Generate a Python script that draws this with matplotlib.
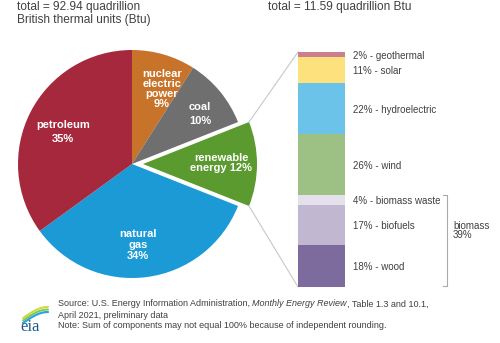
import numpy as np
import matplotlib
matplotlib.use('Agg')
import matplotlib.pyplot as plt
from matplotlib import transforms

plt.rcParams['font.family'] = ['Liberation Sans', 'DejaVu Sans']

# US primary energy consumption by source, 2020 (clockwise from top)
sources = ['nuclear electric power', 'coal', 'renewable energy', 'natural gas', 'petroleum']
source_share = [9, 10, 12, 34, 35]
source_colors = ['#c8732a', '#6f6f6f', '#5b9a2e', '#1b9ad6', '#a6283c']

# renewable breakdown (bottom to top of the bar)
renew = ['wood', 'biofuels', 'biomass waste', 'wind', 'hydroelectric', 'solar', 'geothermal']
renew_share = [18, 17, 4, 26, 22, 11, 2]
renew_colors = ['#7c6b9c', '#c1b7d1', '#e4e0ec', '#9dc184', '#6cc3ea', '#fde17c', '#c97f8c']
biomass_total = 39

W, H = 500, 343
fig = plt.figure(figsize=(W / 100, H / 100), dpi=100)
ax = fig.add_axes([0, 0, 1, 1])

# pie in pixel coordinates (y axis points down)
cx, cy, r, expl = 132, 164, 114, 11
explode = [expl if s == 'renewable energy' else 0 for s in sources]
ax.pie(source_share, colors=source_colors, explode=explode, startangle=-90,
       counterclock=True, center=(cx, cy), radius=r, frame=True,
       wedgeprops=dict(linewidth=0))
ax.set_xlim(0, W)
ax.set_ylim(H, 0)
ax.set_aspect('auto')
ax.axis('off')

lbl = dict(color='white', fontweight='bold', fontsize=8, ha='center', va='center',
           multialignment='center')
ax.text(162, 89, 'nuclear\nelectric\npower\n9%', linespacing=1.02, **lbl)
ax.text(200, 114, 'coal\n10%', linespacing=1.5, **lbl)
ax.text(221, 163, 'renewable\nenergy 12%', linespacing=0.95, **lbl)
ax.text(138, 245, 'natural\ngas\n34%', linespacing=1.1, **lbl)
ax.text(63, 132, 'petroleum\n35%', linespacing=1.5, **lbl)

# bar for renewables
bx, btop, bw, bh = 298, 52, 47, 235
axb = fig.add_axes([bx / W, 1 - (btop + bh) / H, bw / W, bh / H])
bottom = 0
centers = []
for name, s, c in zip(renew, renew_share, renew_colors):
    axb.bar(0, s, bottom=bottom, width=1, color=c, linewidth=0)
    centers.append(bottom + s / 2)
    bottom += s
axb.set_xlim(-0.5, 0.5)
axb.set_ylim(0, sum(renew_share))
axb.axis('off')

tr = transforms.blended_transform_factory(axb.transAxes, axb.transData)
for name, s, yc in zip(renew, renew_share, centers):
    axb.text(1.17, yc - 0.6, '%d%% - %s' % (s, name), transform=tr, fontsize=7,
             color='#404040', va='center', ha='left')

# bracket for biomass
axb.plot([3.08, 3.18, 3.18, 3.08], [biomass_total, biomass_total, 0.3, 0.3], transform=tr,
         color='#aaaaaa', lw=0.8, clip_on=False)
axb.text(3.3, 24, 'biomass\n%d%%' % biomass_total, transform=tr, fontsize=7,
         color='#404040', va='center', ha='left', linespacing=0.9)

# connector lines from exploded wedge to bar
half = np.deg2rad(360 * source_share[sources.index('renewable energy')] / 100 / 2)
ex = cx + expl + r * np.cos(half)
ax.plot([ex, bx], [cy - r * np.sin(half), btop], color='#c8c8c8', lw=0.8)
ax.plot([ex, bx], [cy + r * np.sin(half), btop + bh], color='#c8c8c8', lw=0.8)

# titles
tk = dict(fontsize=8.6, color='#404040', va='center', ha='left')
ax.text(17, 7, 'total = 92.94 quadrillion', **tk)
ax.text(17, 20, 'British thermal units (Btu)', **tk)
ax.text(268, 7, 'total = 11.59 quadrillion Btu', **tk)

# footer
fk = dict(fontsize=6.5, color='#404040', va='center', ha='left')
fig.canvas.draw()
rend = fig.canvas.get_renderer()
x0 = 58
t1 = ax.text(x0, 304, 'Source: U.S. Energy Information Administration, ', **fk)
w1 = t1.get_window_extent(rend).width
t2 = ax.text(x0 + w1, 304, 'Monthly Energy Review', style='italic', **fk)
w2 = t2.get_window_extent(rend).width
ax.text(x0 + w1 + w2, 304, ', Table 1.3 and 10.1,', **fk)
ax.text(x0, 315, 'April 2021, preliminary data', **fk)
ax.text(x0, 326, 'Note: Sum of components may not equal 100% because of independent rounding.', **fk)

# eia logo
ax.text(20, 327, 'eia', family=['Liberation Serif', 'DejaVu Serif'], fontsize=12,
        color='#1f5a8c', va='center', ha='left')
tt = np.linspace(0, 1, 30)
for col, dy, lw in [('#c8d84a', 0, 1.4), ('#8cc63f', 2.5, 1.4), ('#29a8e0', 5, 1.6)]:
    ax.plot(23 + 25 * tt, 318 + dy - 11 * np.sin(tt * np.pi / 2),
            color=col, lw=lw, solid_capstyle='round')

fig.savefig('out.png', dpi=100)
